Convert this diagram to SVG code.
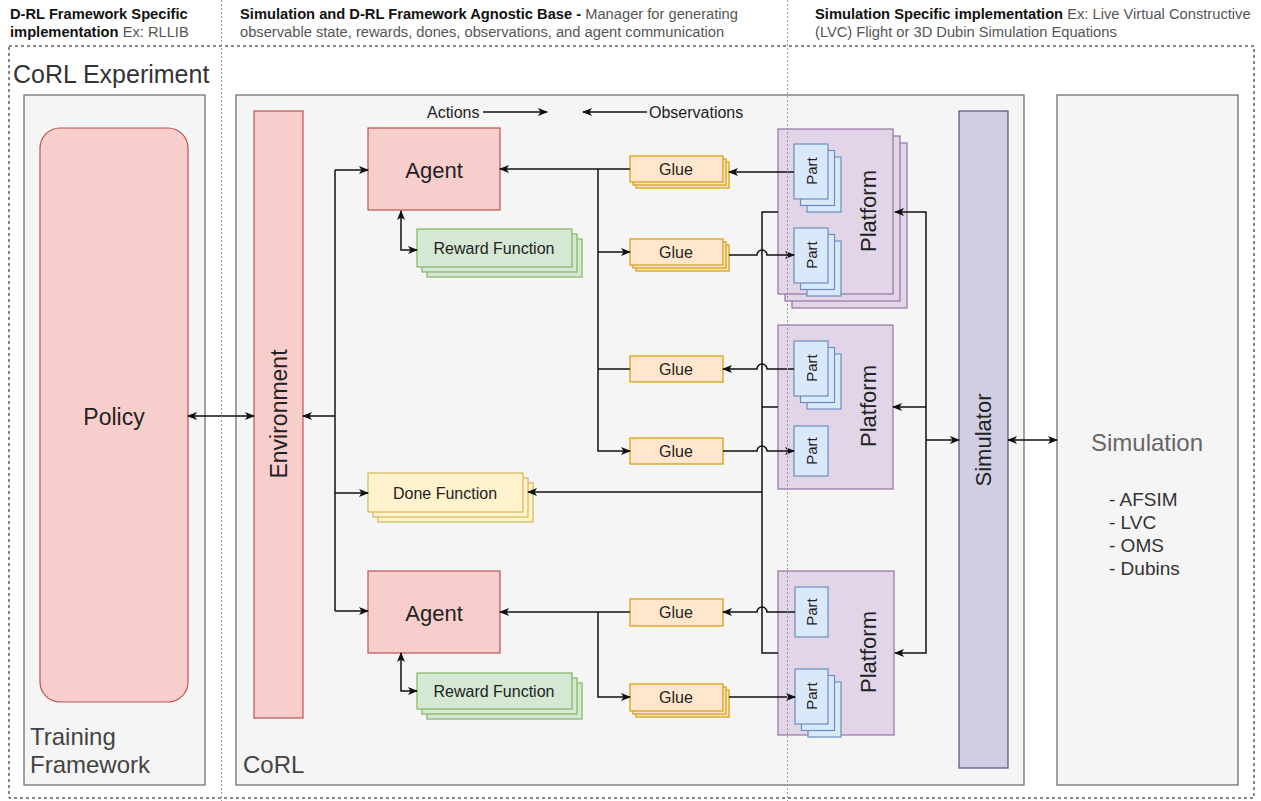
<svg xmlns="http://www.w3.org/2000/svg" width="1261" height="801" viewBox="0 0 1261 801">
<style>
text{font-family:"Liberation Sans",Arial,sans-serif}
.hb{font-weight:bold;fill:#111;font-size:14.7px}
.hr{fill:#555;font-size:14.7px}
.box{fill:#f5f5f5;stroke:#666;stroke-width:1.2}
.red{fill:#f8cecc;stroke:#b85450;stroke-width:1.2}
.grn{fill:#d5e8d4;stroke:#82b366;stroke-width:1.2}
.org{fill:#ffe6cc;stroke:#d79b00;stroke-width:1.2}
.yel{fill:#fff2cc;stroke:#d6b656;stroke-width:1.2}
.pur{fill:#e1d5e7;stroke:#9673a6;stroke-width:1.2}
.blu{fill:#dae8fc;stroke:#6c8ebf;stroke-width:1.2}
.sim{fill:#d0cee2;stroke:#56517e;stroke-width:1.2}
.t{fill:#222;text-anchor:middle;dominant-baseline:central}
.c{fill:none;stroke:#111;stroke-width:1.5}
.ae{marker-end:url(#ah)}
.as{marker-start:url(#ah)}
</style>
<defs>
<marker id="ah" viewBox="0 0 10 8" refX="9" refY="4" markerWidth="10" markerHeight="8" markerUnits="userSpaceOnUse" orient="auto-start-reverse">
<path d="M0,0 L10,4 L0,8 L2.5,4 z" fill="#111"/>
</marker>
</defs>
<rect width="1261" height="801" fill="#fff"/>

<g id="headers">
<text x="10" y="19"><tspan class="hb">D-RL Framework Specific</tspan></text>
<text x="10" y="37"><tspan class="hb">implementation</tspan><tspan class="hr"> Ex: RLLIB</tspan></text>
<text x="240" y="19"><tspan class="hb">Simulation and D-RL Framework Agnostic Base -</tspan><tspan class="hr"> Manager for generating</tspan></text>
<text x="240" y="37"><tspan class="hr">observable state, rewards, dones, observations, and agent communication</tspan></text>
<text x="815" y="19"><tspan class="hb">Simulation Specific implementation</tspan><tspan class="hr"> Ex: Live Virtual Constructive</tspan></text>
<text x="815" y="37"><tspan class="hr">(LVC) Flight or 3D Dubin Simulation Equations</tspan></text>
</g>

<g id="experiment">
<rect x="9" y="46" width="1245" height="752" fill="none" stroke="#111" stroke-width="1" stroke-dasharray="3 3"/>
<text x="13" y="83" font-size="25" fill="#333">CoRL Experiment</text>
</g>

<g id="training-framework">
<rect class="box" x="24" y="95" width="181" height="690"/>
<text x="30" y="745" font-size="24" fill="#444">Training</text>
<text x="30" y="773" font-size="24" fill="#444">Framework</text>
</g>
<g id="policy">
<rect class="red" x="40" y="128" width="148" height="574" rx="20"/>
<text class="t" x="114" y="417" font-size="23">Policy</text>
</g>

<g id="corl">
<rect class="box" x="236" y="95" width="788" height="690"/>
<text x="243" y="773" font-size="24" fill="#444">CoRL</text>
</g>

<g id="simulation">
<rect class="box" x="1057" y="95" width="181" height="690"/>
<text x="1147" y="451" font-size="24" fill="#666" text-anchor="middle">Simulation</text>
<text x="1109" y="506" font-size="19" fill="#333">- AFSIM</text>
<text x="1109" y="529" font-size="19" fill="#333">- LVC</text>
<text x="1109" y="552" font-size="19" fill="#333">- OMS</text>
<text x="1109" y="575" font-size="19" fill="#333">- Dubins</text>
</g>

<g id="environment">
<rect class="red" x="254" y="111" width="49" height="607"/>
<text class="t" transform="translate(279,414) rotate(-90)" font-size="23">Environment</text>
</g>

<g id="simulator">
<rect class="sim" x="959" y="111" width="49" height="657"/>
<text class="t" transform="translate(983,440) rotate(-90)" font-size="22">Simulator</text>
</g>

<g id="legend">
<text x="427" y="118" font-size="16" fill="#222">Actions</text>
<text x="649" y="118" font-size="16" fill="#222">Observations</text>
</g>

<g id="agent-1">
<rect class="red" x="368" y="128" width="132" height="82"/>
<text class="t" x="434" y="170" font-size="22">Agent</text>
</g>
<g id="reward-1">
<rect class="grn" x="427" y="239" width="155" height="38"/>
<rect class="grn" x="422" y="234" width="155" height="38"/>
<rect class="grn" x="417" y="229" width="155" height="38"/>
<text class="t" x="494" y="248" font-size="16">Reward Function</text>
</g>
<g id="glue-1">
<rect class="org" x="636" y="162" width="93" height="26"/>
<rect class="org" x="633" y="159" width="93" height="26"/>
<rect class="org" x="630" y="156" width="93" height="26"/>
<text class="t" x="676" y="169" font-size="16">Glue</text>
</g>
<g id="glue-2">
<rect class="org" x="636" y="245" width="93" height="26"/>
<rect class="org" x="633" y="242" width="93" height="26"/>
<rect class="org" x="630" y="239" width="93" height="26"/>
<text class="t" x="676" y="252" font-size="16">Glue</text>
</g>
<g id="glue-3">
<rect class="org" x="630" y="356" width="93" height="26"/>
<text class="t" x="676" y="369" font-size="16">Glue</text>
</g>
<g id="glue-4">
<rect class="org" x="630" y="438" width="93" height="26"/>
<text class="t" x="676" y="451" font-size="16">Glue</text>
</g>
<g id="done-function">
<rect class="yel" x="378" y="483" width="155" height="39"/>
<rect class="yel" x="373" y="478" width="155" height="39"/>
<rect class="yel" x="368" y="473" width="155" height="39"/>
<text class="t" x="445" y="493" font-size="16">Done Function</text>
</g>
<g id="agent-2">
<rect class="red" x="368" y="571" width="132" height="82"/>
<text class="t" x="434" y="613" font-size="22">Agent</text>
</g>
<g id="reward-2">
<rect class="grn" x="427" y="683" width="155" height="36"/>
<rect class="grn" x="422" y="678" width="155" height="36"/>
<rect class="grn" x="417" y="673" width="155" height="36"/>
<text class="t" x="494" y="691" font-size="16">Reward Function</text>
</g>
<g id="glue-5">
<rect class="org" x="630" y="599" width="93" height="27"/>
<text class="t" x="676" y="612" font-size="16">Glue</text>
</g>
<g id="glue-6">
<rect class="org" x="636" y="690" width="93" height="27"/>
<rect class="org" x="633" y="687" width="93" height="27"/>
<rect class="org" x="630" y="684" width="93" height="27"/>
<text class="t" x="676" y="697" font-size="16">Glue</text>
</g>

<g id="platform-1">
<rect class="pur" x="792" y="143" width="115" height="165"/>
<rect class="pur" x="785" y="136" width="115" height="165"/>
<rect class="pur" x="778" y="129" width="115" height="165"/>
<text class="t" transform="translate(868,211) rotate(-90)" font-size="22">Platform</text>
</g>
<g id="part-a">
<rect class="blu" x="807" y="157" width="34" height="55"/>
<rect class="blu" x="800.5" y="150.5" width="34" height="55"/>
<rect class="blu" x="794" y="144" width="34" height="55"/>
<text class="t" transform="translate(811,171) rotate(-90)" font-size="15">Part</text>
</g>
<g id="part-b">
<rect class="blu" x="807" y="241" width="34" height="55"/>
<rect class="blu" x="800.5" y="234.5" width="34" height="55"/>
<rect class="blu" x="794" y="228" width="34" height="55"/>
<text class="t" transform="translate(811,255) rotate(-90)" font-size="15">Part</text>
</g>
<g id="platform-2">
<rect class="pur" x="778" y="325" width="115" height="164"/>
<text class="t" transform="translate(868,406) rotate(-90)" font-size="22">Platform</text>
</g>
<g id="part-c">
<rect class="blu" x="807" y="354" width="34" height="55"/>
<rect class="blu" x="800.5" y="347.5" width="34" height="55"/>
<rect class="blu" x="794" y="341" width="34" height="55"/>
<text class="t" transform="translate(811,368) rotate(-90)" font-size="15">Part</text>
</g>
<g id="part-d">
<rect class="blu" x="794" y="426" width="34" height="50"/>
<text class="t" transform="translate(811,451) rotate(-90)" font-size="15">Part</text>
</g>
<g id="platform-3">
<rect class="pur" x="778" y="571" width="116" height="164"/>
<text class="t" transform="translate(868,652) rotate(-90)" font-size="22">Platform</text>
</g>
<g id="part-e">
<rect class="blu" x="795" y="587" width="33" height="50"/>
<text class="t" transform="translate(811,612) rotate(-90)" font-size="15">Part</text>
</g>
<g id="part-f">
<rect class="blu" x="808" y="682" width="33" height="55"/>
<rect class="blu" x="801.5" y="675.5" width="33" height="55"/>
<rect class="blu" x="795" y="669" width="33" height="55"/>
<text class="t" transform="translate(811,696) rotate(-90)" font-size="15">Part</text>
</g>

<g id="connectors">
<path class="c ae" d="M483,112 L547,112"/>
<path class="c as" d="M583,112 L647,112"/>
<path class="c as ae" d="M188,416 L254,416"/>
<path class="c as" d="M303,416 L335,416"/>
<path class="c" d="M335,170 L335,611"/>
<path class="c ae" d="M335,170 L368,170"/>
<path class="c ae" d="M335,493 L368,493"/>
<path class="c ae" d="M335,611 L368,611"/>
<path class="c as ae" d="M401,211 L401,250 L417,250"/>
<path class="c as ae" d="M401,653 L401,691 L417,691"/>
<path class="c as" d="M500,169 L630,169"/>
<path class="c ae" d="M598,169 L598,451 L630,451"/>
<path class="c ae" d="M598,252 L630,252"/>
<path class="c" d="M598,369 L630,369"/>
<path class="c as" d="M500,612 L630,612"/>
<path class="c ae" d="M598,612 L598,697 L630,697"/>
<path class="c as" d="M729,172 L794,172"/>
<path class="c ae" d="M729,255 L757,255 A5,5 0 0 1 767,255 L794,255"/>
<path class="c as" d="M723,369 L757,369 A5,5 0 0 1 767,369 L794,369"/>
<path class="c ae" d="M723,451 L757,451 A5,5 0 0 1 767,451 L794,451"/>
<path class="c as" d="M723,612 L757,612 A5,5 0 0 1 767,612 L795,612"/>
<path class="c ae" d="M729,697 L795,697"/>
<path class="c" d="M778,212 L762,212 L762,653 L778,653"/>
<path class="c" d="M762,407 L778,407"/>
<path class="c ae" d="M762,492 L528,492"/>
<path class="c as ae" d="M895,212 L926,212 L926,653 L895,653"/>
<path class="c ae" d="M926,407 L893,407"/>
<path class="c ae" d="M926,440 L959,440"/>
<path class="c as ae" d="M1008,440 L1057,440"/>
</g>

<g id="dividers">
<line x1="221.5" y1="0" x2="221.5" y2="801" stroke="#999" stroke-width="1" stroke-dasharray="2 2"/>
<line x1="787.5" y1="0" x2="787.5" y2="801" stroke="#999" stroke-width="1" stroke-dasharray="2 2"/>
</g>
</svg>
